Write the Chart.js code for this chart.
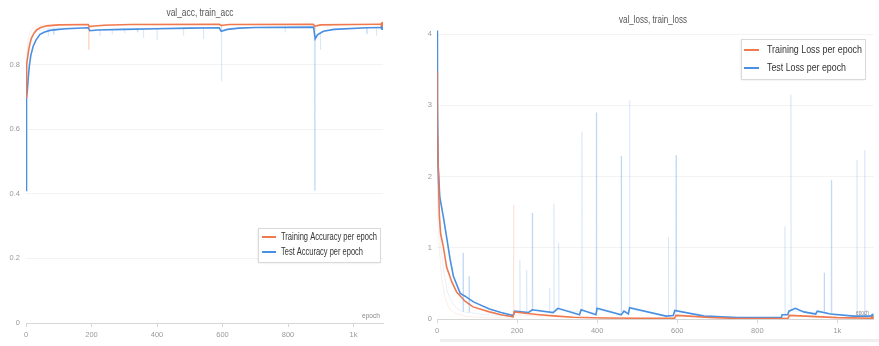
<!DOCTYPE html>
<html lang="en">
<head>
    <meta charset="UTF-8">
    <title>Accuracy and Loss</title>
    <style>
        body {
            margin: 0;
            background: #fff;
            width: 879px;
            height: 346px;
            overflow: hidden;
            position: relative;
        }

        #accBox {
            position: absolute;
            left: 0;
            top: 0;
            width: 400px;
            height: 346px;
        }

        #lossBox {
            position: absolute;
            left: 400px;
            top: 0;
            width: 479px;
            height: 346px;
        }

        #bottomBar {
            position: absolute;
            left: 440px;
            top: 339px;
            width: 439px;
            height: 3px;
            background: #efefef;
        }
    </style>
    <script src="https://cdn.jsdelivr.net/npm/chart.js"></script>
</head>
<body>
    <div id="accBox"><canvas id="accChart" width="400" height="346"></canvas></div>
    <div id="lossBox"><canvas id="lossChart" width="479" height="346"></canvas></div>
    <div id="bottomBar"></div>

    <script>
        // tick labels
        const epochTicks = [0, 200, 400, 600, 800, 1000];
        const epochTickLabels = ['0', '200', '400', '600', '800', '1k'];
        const accTicks = [0, 0.2, 0.4, 0.6, 0.8];
        const lossTicks = [0, 1, 2, 3, 4];

        // smoothed curves, [epoch, value]
        const trainAccSmooth = [[0,0.70],[1,0.76],[3,0.80],[7,0.837],[12,0.865],[17,0.883],[25,0.898],[33,0.908],[45,0.915],[64,0.920],[100,0.923],[190,0.924],[193,0.917],[200,0.919],[240,0.922],[320,0.924],[590,0.925],[596,0.921],[620,0.924],[876,0.925],[882,0.919],[900,0.923],[1000,0.924],[1090,0.925]];
        const testAccSmooth = [[0,0.41],[1,0.62],[2,0.70],[4,0.72],[7,0.76],[10,0.795],[15,0.83],[22,0.857],[30,0.875],[42,0.893],[55,0.900],[73,0.906],[100,0.909],[124,0.911],[190,0.914],[195,0.905],[220,0.907],[300,0.909],[400,0.911],[500,0.913],[590,0.914],[596,0.903],[615,0.909],[650,0.913],[700,0.915],[878,0.916],[883,0.880],[890,0.892],[908,0.903],[940,0.909],[1040,0.914],[1090,0.915]];

        // raw (faint) curves with spikes
        const trainAccRaw = [[0,0.72],[2,0.82],[5,0.87],[10,0.895],[20,0.912],[40,0.92],[80,0.924],[190,0.925],[192,0.846],[194,0.92],[250,0.924],[596,0.925],[597,0.915],[600,0.924],[880,0.925],[882,0.91],[886,0.924],[1090,0.926]];
        const testAccRaw = [[0,0.41],[1,0.70],[3,0.80],[6,0.85],[10,0.87],[20,0.89],[35,0.905],[50,0.91],[67,0.912],[68,0.888],[69,0.912],[84,0.913],[85,0.893],[86,0.913],[150,0.915],[190,0.916],[195,0.905],[225,0.909],[226,0.888],[227,0.909],[262,0.91],[263,0.895],[264,0.91],[300,0.911],[301,0.897],[302,0.911],[340,0.912],[341,0.9],[342,0.912],[358,0.912],[359,0.882],[360,0.912],[399,0.913],[400,0.876],[401,0.913],[480,0.914],[481,0.89],[482,0.914],[541,0.915],[542,0.88],[543,0.915],[596,0.915],[597,0.748],[598,0.905],[650,0.914],[750,0.916],[790,0.916],[791,0.9],[792,0.916],[880,0.916],[882,0.41],[884,0.89],[898,0.9],[899,0.846],[900,0.902],[960,0.91],[1040,0.914],[1041,0.895],[1042,0.914],[1069,0.914],[1070,0.89],[1071,0.914],[1090,0.915]];

        const trainLossSmooth = [[0,3.48],[1,2.7],[3,2.12],[6,1.45],[9,1.2],[16,1.01],[24,0.73],[37,0.52],[49,0.38],[70,0.25],[90,0.17],[131,0.1],[160,0.06],[190,0.03],[193,0.1],[220,0.08],[256,0.06],[300,0.04],[340,0.025],[420,0.015],[506,0.01],[593,0.01],[597,0.05],[630,0.04],[680,0.02],[750,0.008],[876,0.005],[880,0.05],[920,0.04],[1000,0.02],[1090,0.01]];
        const testLossSmooth = [[0,4.05],[1,3.0],[3,2.15],[7,1.71],[16,1.43],[24,1.15],[33,0.83],[41,0.6],[58,0.36],[70,0.32],[91,0.24],[131,0.14],[160,0.09],[190,0.05],[194,0.11],[228,0.09],[238,0.13],[290,0.09],[302,0.15],[356,0.06],[360,0.13],[397,0.06],[400,0.15],[460,0.06],[467,0.11],[478,0.07],[481,0.16],[572,0.04],[590,0.05],[594,0.12],[667,0.04],[750,0.02],[860,0.02],[862,0.06],[876,0.06],[879,0.11],[895,0.15],[916,0.1],[946,0.07],[950,0.11],[983,0.07],[1041,0.04],[1090,0.04]];

        const trainLossRaw = [[0,2.0],[3,1.3],[7,0.9],[12,0.55],[20,0.3],[30,0.15],[45,0.08],[70,0.04],[120,0.02],[190,0.01],[191,1.6],[192,0.09],[194,0.06],[260,0.04],[400,0.015],[596,0.01],[597,0.06],[700,0.01],[880,0.005],[881,0.05],[1000,0.02],[1090,0.01]];
        const testLossRaw = [[0,4.0],[2,1.9],[5,1.4],[10,1.0],[16,0.7],[25,0.4],[35,0.25],[50,0.15],[64,0.1],[65,0.93],[66,0.1],[79,0.09],[80,0.6],[81,0.09],[120,0.06],[190,0.04],[196,0.11],[206,0.1],[207,0.83],[208,0.1],[223,0.1],[224,0.69],[225,0.1],[237,0.13],[238,1.49],[239,0.12],[280,0.1],[281,0.44],[282,0.1],[291,0.1],[292,1.61],[293,0.14],[303,0.13],[304,1.07],[305,0.13],[361,0.1],[362,2.63],[363,0.12],[397,0.08],[398,2.9],[399,0.13],[459,0.07],[460,2.29],[461,0.1],[480,0.1],[481,3.07],[482,0.14],[577,0.04],[578,1.15],[579,0.04],[596,0.05],[597,2.3],[598,0.1],[700,0.04],[760,0.02],[868,0.02],[869,1.3],[870,0.06],[883,0.11],[884,3.15],[885,0.12],[930,0.09],[966,0.1],[967,0.65],[968,0.1],[984,0.07],[985,1.95],[986,0.06],[1048,0.04],[1049,2.23],[1050,0.04],[1067,0.04],[1068,2.37],[1069,0.04],[1090,0.05]];

        const ORANGE = 'rgb(240, 122, 80)';
        const BLUE = 'rgb(74, 144, 226)';
        const ORANGE_FAINT = 'rgba(240, 122, 80, 0.13)';
        const BLUE_FAINT = 'rgba(74, 144, 226, 0.13)';
        const FONT = '"Liberation Sans", Arial, sans-serif';

        function toXY(pairs) {
            return pairs.map(p => ({ x: p[0], y: p[1] }));
        }

        // text squeezed horizontally to a given width (the source uses a condensed face)
        function fitText(ctx, text, x, y, width, align) {
            const w = ctx.measureText(text).width;
            const sx = width / w;
            let left = x;
            if (align === 'center') left = x - width / 2;
            if (align === 'right') left = x - width;
            ctx.save();
            ctx.translate(left, y);
            ctx.scale(sx, 1);
            ctx.textAlign = 'left';
            ctx.fillText(text, 0, 0);
            ctx.restore();
        }

        // title, legend box and "epoch" axis name
        const overlayPlugin = {
            id: 'overlay',
            afterDraw(chart, args, opts) {
                const ctx = chart.ctx;
                const b = opts.box;
                const t = opts.title;

                ctx.save();
                ctx.textBaseline = 'middle';
                ctx.fillStyle = '#555';
                ctx.font = t.size + 'px ' + FONT;
                fitText(ctx, t.text, t.x, t.y, t.width, 'center');
                ctx.restore();

                ctx.save();
                ctx.shadowColor = 'rgba(0,0,0,0.12)';
                ctx.shadowBlur = 2;
                ctx.shadowOffsetY = 1;
                ctx.fillStyle = '#fff';
                ctx.fillRect(b.x, b.y, b.w, b.h);
                ctx.restore();

                ctx.save();
                ctx.strokeStyle = '#d9d9d9';
                ctx.lineWidth = 1;
                ctx.strokeRect(b.x + 0.5, b.y + 0.5, b.w, b.h);
                ctx.font = opts.fontSize + 'px ' + FONT;
                ctx.textBaseline = 'middle';
                ctx.fillStyle = '#333';
                opts.items.forEach((item, i) => {
                    const y = b.y + opts.rowTop + i * opts.rowGap;
                    ctx.strokeStyle = item.color;
                    ctx.lineWidth = 2;
                    ctx.beginPath();
                    ctx.moveTo(b.x + opts.lineStart, y);
                    ctx.lineTo(b.x + opts.lineStart + opts.lineLen, y);
                    ctx.stroke();
                    fitText(ctx, item.label, b.x + opts.textStart, y, item.width, 'left');
                });
                ctx.font = opts.epochSize + 'px ' + FONT;
                ctx.fillStyle = '#888';
                fitText(ctx, 'epoch', opts.epoch.x, opts.epoch.y, opts.epoch.width, 'right');
                ctx.restore();
            }
        };

        function makeChart(id, cfg) {
            const lastRadius = ctx => ctx.dataIndex === ctx.dataset.data.length - 1 ? 1.8 : 0;
            return new Chart(document.getElementById(id), {
                type: 'line',
                data: {
                    datasets: [
                        { data: toXY(cfg.trainRaw), borderColor: ORANGE_FAINT, borderWidth: 1, pointRadius: 0 },
                        { data: toXY(cfg.testRaw), borderColor: BLUE_FAINT, borderWidth: 1, pointRadius: 0 },
                        { data: toXY(cfg.trainSmooth), borderColor: ORANGE, backgroundColor: ORANGE, borderWidth: 1.6, pointRadius: lastRadius },
                        { data: toXY(cfg.testSmooth), borderColor: BLUE, backgroundColor: BLUE, borderWidth: 1.6, pointRadius: lastRadius }
                    ]
                },
                plugins: [overlayPlugin],
                options: {
                    responsive: false,
                    animation: false,
                    events: [],
                    layout: { padding: { left: 0, right: cfg.padRight, top: cfg.padTop, bottom: 0 } },
                    elements: { line: { tension: 0 } },
                    plugins: {
                        legend: { display: false },
                        tooltip: { enabled: false },
                        title: { display: false },
                        overlay: cfg.overlay
                    },
                    scales: {
                        x: {
                            type: 'linear',
                            min: 0,
                            max: 1090,
                            afterBuildTicks: s => { s.ticks = epochTicks.map(v => ({ value: v })); },
                            afterFit: s => { s.height = cfg.xHeight; },
                            ticks: {
                                color: '#9a9a9a',
                                font: { family: FONT, size: 7.5 },
                                padding: 3,
                                maxRotation: 0,
                                callback: v => epochTickLabels[epochTicks.indexOf(v)]
                            },
                            grid: { drawOnChartArea: false, drawTicks: true, tickLength: 4, color: '#d6d6d6' },
                            border: { display: true, color: '#d6d6d6' }
                        },
                        y: {
                            min: 0,
                            max: cfg.yMax,
                            afterBuildTicks: s => { s.ticks = cfg.yTicks.map(v => ({ value: v })); },
                            afterFit: s => { s.width = cfg.yWidth; },
                            ticks: {
                                color: '#9a9a9a',
                                font: { family: FONT, size: 7.5 },
                                padding: cfg.yPad,
                                callback: v => String(v)
                            },
                            grid: { color: '#f3f3f3', drawTicks: false },
                            border: { display: false }
                        }
                    }
                }
            });
        }

        makeChart('accChart', {
            trainSmooth: trainAccSmooth,
            testSmooth: testAccSmooth,
            trainRaw: trainAccRaw,
            testRaw: testAccRaw,
            yMax: 0.935,
            yTicks: accTicks,
            yWidth: 26,
            yPad: 6,
            xHeight: 23,
            padRight: 17,
            padTop: 21,
            overlay: {
                title: { text: 'val_acc, train_acc', x: 200, y: 13, width: 67, size: 10 },
                box: { x: 258, y: 228, w: 122, h: 34 },
                fontSize: 10.5,
                lineStart: 4,
                lineLen: 14,
                textStart: 23,
                rowTop: 9,
                rowGap: 15,
                epochSize: 8,
                epoch: { x: 380, y: 316, width: 18 },
                items: [
                    { label: 'Training Accuracy per epoch', color: ORANGE, width: 96 },
                    { label: 'Test Accuracy per epoch', color: BLUE, width: 82 }
                ]
            }
        });

        makeChart('lossChart', {
            trainSmooth: trainLossSmooth,
            testSmooth: testLossSmooth,
            trainRaw: trainLossRaw,
            testRaw: testLossRaw,
            yMax: 4.1,
            yTicks: lossTicks,
            yWidth: 37,
            yPad: 5,
            xHeight: 27,
            padRight: 4,
            padTop: 27,
            overlay: {
                title: { text: 'val_loss, train_loss', x: 253, y: 20, width: 68, size: 10 },
                box: { x: 341, y: 39, w: 124, h: 40 },
                fontSize: 11,
                lineStart: 3,
                lineLen: 15,
                textStart: 26,
                rowTop: 11,
                rowGap: 18,
                epochSize: 7,
                epoch: { x: 469, y: 313, width: 13 },
                items: [
                    { label: 'Training Loss per epoch', color: ORANGE, width: 95 },
                    { label: 'Test Loss per epoch', color: BLUE, width: 79 }
                ]
            }
        });
    </script>
</body>
</html>
